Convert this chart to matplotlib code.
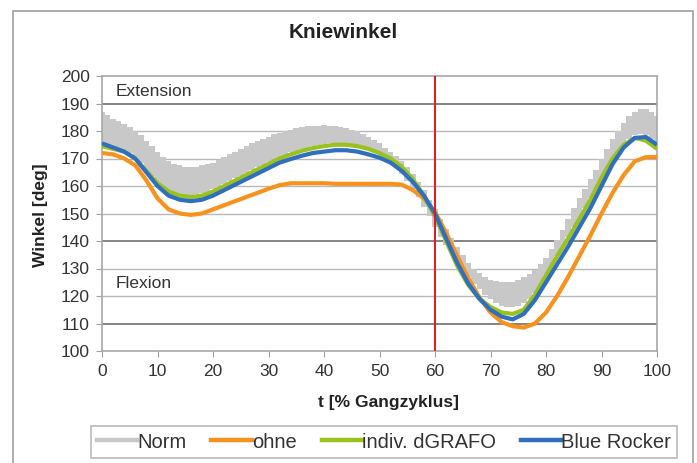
import numpy as np
import matplotlib
matplotlib.use("Agg")
import matplotlib.pyplot as plt
from matplotlib.lines import Line2D
from matplotlib.patches import Rectangle

plt.rcParams["font.family"] = ["Liberation Sans", "DejaVu Sans"]

# Norm corridor, upper / lower edge per 1 % of gait cycle
norm_t = list(range(0, 101))
norm_hi = [187, 186, 184.5, 183.5, 182.5, 181.5, 180, 178.5, 176.5, 174.5,
           172.5, 170.5, 169, 168, 167.5, 167, 167, 167, 167.5, 168,
           168.5, 169.5, 170.5, 171.5, 172.5, 173.5, 174.5, 175.5, 176.5, 177.2,
           178, 178.8, 179.3, 180, 180.5, 181, 181.5, 181.8, 182, 182,
           182, 182, 181.8, 181.5, 181, 180.5, 180, 179, 178, 176.8,
           175.5, 174, 172.5, 171, 169, 167, 164.5, 161.5, 158.5, 155,
           151.5, 148, 144.5, 141, 138, 135, 132, 130, 128.5, 127,
           126, 125.3, 125, 125, 125.2, 125.8, 126.8, 128, 129.5, 131.5,
           134, 137, 140.5, 144, 148, 152, 155.5, 159, 162.5, 166,
           170, 173.5, 177, 180, 183, 185.5, 187, 188, 188, 187,
           185.5]
norm_lo = [175, 174.5, 174, 173.5, 173, 172, 170.5, 168.5, 166, 163.5,
           161.5, 160, 158.5, 157.5, 157, 156.8, 156.8, 157, 157.3, 158,
           158.8, 159.8, 160.8, 161.8, 162.8, 163.8, 164.8, 165.8, 166.8, 167.8,
           168.8, 169.8, 170.6, 171.4, 172.2, 172.9, 173.5, 174, 174.5, 175,
           175.3, 175.5, 175.6, 175.6, 175.5, 175.2, 174.8, 174.3, 173.6, 172.8,
           171.8, 170.5, 169, 167, 164.5, 162, 159, 156, 152.5, 149,
           145, 141.5, 138.5, 135.5, 132.5, 129.5, 127, 124.5, 122.5, 120.5,
           119, 117.5, 116.5, 116, 116, 116.5, 117.5, 119, 121, 124,
           127.5, 131, 134.5, 138, 141.5, 145, 148.5, 152, 155.5, 159,
           162.5, 166, 169.5, 172.5, 175, 177, 178.5, 179, 178.5, 177,
           175.5]

# measured curves, every 2 %
t = list(range(0, 101, 2))
ohne = [172, 171.5, 170, 167.5, 162, 155.5, 151.5, 150, 149.5, 150,
        151.5, 153, 154.5, 156, 157.5, 159, 160.3, 161, 161, 161,
        161, 160.8, 160.8, 160.8, 160.8, 160.8, 160.8, 160.5, 158.5, 155.5,
        150.5, 143, 134.5, 126.5, 119.5, 114, 110.5, 109, 108.5, 110,
        114, 120, 127, 134.5, 142, 150, 157.5, 164, 169, 170.5,
        170.5]
dgrafo = [174.5, 173.5, 172.5, 170, 165.5, 161, 158, 156.5, 156, 156.5,
          158, 160, 162, 164, 166, 168, 170, 171.5, 172.8, 173.8,
          174.5, 175, 175, 174.5, 173.5, 172, 170, 167, 162.5, 156.5,
          149, 140, 131, 124, 119, 116, 114, 113.5, 115, 120.5,
          127.5, 134.5, 141, 148, 155, 163, 170, 175, 177.5, 176.5,
          173.5]
blue_rocker = [175.5, 174, 172.5, 170, 165, 160, 156.5, 155, 154.5, 155,
               156.5, 158.5, 160.5, 162.5, 164.5, 166.5, 168.5, 169.8, 171, 172,
               172.5, 173, 173, 172.5, 171.5, 170.3, 168.5, 165.5, 161.5, 156.5,
               150, 141, 132, 124.5, 119, 115, 112.5, 111.5, 113.5, 118.5,
               125, 131.5, 138, 145, 152, 160, 168, 174, 177.5, 177.8,
               175]

labels = ["Norm", "ohne", "indiv. dGRAFO", "Blue Rocker"]
c_norm = "#c8c8c8"
c_ohne = "#f7921e"
c_green = "#99c21c"
c_blue = "#2f6fbd"

fig = plt.figure(figsize=(6.97, 4.63), dpi=100)
ax = fig.add_axes([102 / 697, 1 - 351 / 463, 555 / 697, 275 / 463])

# horizontal grid
for v in range(110, 200, 10):
    dark = v in (190, 140, 110)
    ax.axhline(v, color="#7a7a7a" if dark else "#b8b8b8",
               lw=1.3 if dark else 1.0, zorder=1)

lo = np.array(norm_lo)
hi = np.array(norm_hi)
ax.bar(norm_t, hi - lo, bottom=lo, width=1.0, color=c_norm, lw=0, zorder=2)

for y, c, z in ((ohne, c_ohne, 3), (dgrafo, c_green, 4), (blue_rocker, c_blue, 5)):
    ax.plot(t, y, color=c, lw=3, zorder=z, solid_capstyle="butt",
            solid_joinstyle="round")
ax.axvline(60, color="#e8141c", lw=1.4, zorder=6)

ax.text(2.5, 194.3, "Extension", fontsize=12.5, color="#333333", va="center")
ax.text(2.5, 124.7, "Flexion", fontsize=12.5, color="#333333", va="center")

ax.set_xlim(0, 100)
ax.set_ylim(100, 200)
ax.set_xticks(range(0, 101, 10))
ax.set_yticks(range(100, 201, 10))
ax.tick_params(labelsize=12.5, labelcolor="#333333", color="#a0a0a0",
               length=4, direction="out", pad=5)
for s in ax.spines.values():
    s.set_color("#a8a8a8")
    s.set_linewidth(1.2)

fig.text(343 / 697, 1 - 33 / 463, "Kniewinkel", fontsize=15, weight="bold",
         ha="center", va="center", color="#222222")
fig.text(388 / 697, 1 - 403 / 463, "t [% Gangzyklus]", fontsize=12.5,
         weight="bold", ha="center", va="center", color="#222222")
fig.text(40 / 697, 1 - 215 / 463, "Winkel [deg]", fontsize=12.5,
         weight="bold", ha="center", va="center", rotation=90, color="#222222")

handles = [Line2D([], [], color=c, lw=3.2) for c in (c_norm, c_ohne, c_green, c_blue)]
leg = fig.legend(handles, labels, loc="center", ncol=4,
                 bbox_to_anchor=(384 / 697, 1 - 442 / 463), fontsize=14.5,
                 frameon=True, fancybox=False, handlelength=2.0,
                 handletextpad=0.0, columnspacing=1.25, borderpad=0.3)
leg.get_frame().set_edgecolor("#a8a8a8")
leg.get_frame().set_linewidth(1.2)
for txt in leg.get_texts():
    txt.set_color("#333333")

fig.patches.append(Rectangle((13 / 697, -0.01), 680 / 697, 1 - 11 / 463 + 0.01,
                             transform=fig.transFigure, fill=False,
                             edgecolor="#a0a0a0", lw=1.2))

fig.savefig("out.png", dpi=100)
